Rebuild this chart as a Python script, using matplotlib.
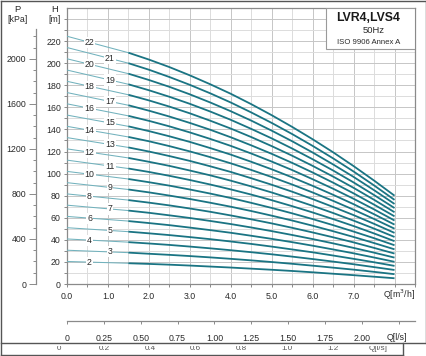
import numpy as np
import matplotlib.pyplot as plt
from matplotlib.patches import Rectangle
from matplotlib.lines import Line2D
from matplotlib.transforms import Bbox, TransformedBbox

plt.rcParams['font.family'] = ['Liberation Sans', 'DejaVu Sans']

q_pts = [0, 1.5, 2, 2.5, 3, 3.5, 4, 4.5, 5, 5.5, 6, 6.5, 7, 7.5, 8]
stages = list(range(2, 23))
# head [m] per stage count, at q_pts
heads = [
    [20.4, 18.8, 18.2, 17.5, 16.7, 15.8, 14.9, 13.9, 12.9, 11.8, 10.6, 9.3, 8.0, 6.6, 5.2],
    [30.6, 28.4, 27.4, 26.4, 25.3, 24.1, 22.8, 21.4, 19.9, 18.3, 16.6, 14.8, 13.0, 11.0, 8.9],
    [40.8, 37.9, 36.7, 35.4, 33.9, 32.3, 30.6, 28.8, 26.9, 24.8, 22.6, 20.3, 17.9, 15.3, 12.7],
    [51.0, 47.4, 45.9, 44.3, 42.5, 40.6, 38.5, 36.3, 33.9, 31.3, 28.7, 25.8, 22.8, 19.7, 16.4],
    [61.2, 57.0, 55.2, 53.3, 51.1, 48.8, 46.4, 43.7, 40.9, 37.9, 34.7, 31.3, 27.8, 24.0, 20.1],
    [71.4, 66.5, 64.5, 62.2, 59.8, 57.1, 54.3, 51.2, 47.9, 44.4, 40.7, 36.8, 32.7, 28.4, 23.9],
    [81.6, 76.0, 73.7, 71.2, 68.4, 65.4, 62.1, 58.6, 54.9, 50.9, 46.7, 42.3, 37.7, 32.7, 27.6],
    [91.8, 85.6, 83.0, 80.1, 77.0, 73.6, 70.0, 66.1, 61.9, 57.5, 52.8, 47.8, 42.6, 37.1, 31.4],
    [102.0, 95.1, 92.2, 89.1, 85.6, 81.9, 77.9, 73.5, 68.9, 64.0, 58.8, 53.3, 47.5, 41.5, 35.1],
    [112.2, 104.6, 101.5, 98.0, 94.2, 90.1, 85.7, 81.0, 75.9, 70.5, 64.8, 58.8, 52.5, 45.8, 38.8],
    [122.4, 114.2, 110.7, 107.0, 102.8, 98.4, 93.6, 88.4, 82.9, 77.0, 70.8, 64.3, 57.4, 50.2, 42.6],
    [132.6, 123.7, 120.0, 115.9, 111.5, 106.6, 101.5, 95.8, 89.9, 83.6, 76.9, 69.8, 62.4, 54.5, 46.3],
    [142.8, 133.2, 129.3, 124.9, 120.1, 114.9, 109.3, 103.3, 96.9, 90.1, 82.9, 75.3, 67.3, 58.9, 50.1],
    [153.0, 142.8, 138.5, 133.8, 128.7, 123.1, 117.2, 110.7, 103.9, 96.6, 88.9, 80.8, 72.3, 63.2, 53.8],
    [163.2, 152.3, 147.8, 142.8, 137.3, 131.4, 125.1, 118.2, 110.9, 103.2, 94.9, 86.3, 77.2, 67.6, 57.5],
    [173.4, 161.9, 157.0, 151.7, 145.9, 139.7, 132.9, 125.6, 117.9, 109.7, 101.0, 91.8, 82.1, 71.9, 61.3],
    [183.6, 171.4, 166.3, 160.7, 154.6, 147.9, 140.8, 133.1, 124.9, 116.2, 107.0, 97.3, 87.1, 76.3, 65.0],
    [193.8, 180.9, 175.5, 169.6, 163.2, 156.2, 148.7, 140.5, 131.9, 122.7, 113.0, 102.8, 92.0, 80.6, 68.8],
    [204.0, 190.5, 184.8, 178.6, 171.8, 164.4, 156.5, 148.0, 138.9, 129.3, 119.1, 108.3, 97.0, 85.0, 72.5],
    [214.2, 200.0, 194.1, 187.5, 180.4, 172.7, 164.4, 155.4, 145.9, 135.8, 125.1, 113.8, 101.9, 89.3, 76.2],
    [224.4, 209.5, 203.3, 196.5, 189.0, 180.9, 172.3, 162.9, 152.9, 142.3, 131.1, 119.3, 106.8, 93.7, 80.0],
]

h_ticks = list(range(0, 221, 20))
p_ticks = [0, 400, 800, 1200, 1600, 2000]
q_ticks = [0, 1, 2, 3, 4, 5, 6, 7]
qls_ticks = [0, 0.25, 0.5, 0.75, 1.0, 1.25, 1.5, 1.75, 2.0]
qls_labels = ['0', '0.25', '0.50', '0.75', '1.00', '1.25', '1.50', '1.75', '2.00']
cut_ticks = ['0', '0.2', '0.4', '0.6', '0.8', '1.0', '1.2', 'Q[l/s]']

W, H = 427, 356
dark = '#1a7483'
light = '#72b2bd'
grey = '#8a8a8a'
txt = '#2a2a2a'
fs = 6.3

fig = plt.figure(figsize=(W / 100, H / 100), dpi=100)
fig.patch.set_facecolor('white')

def fx(px):
    return px / W

def fy(py):
    return 1 - py / H

ax = fig.add_axes([fx(67), fy(284), fx(415) - fx(67), fy(8) - fy(284)])
ax.set_xlim(0, 8.5)
ax.set_ylim(0, 250)

# grid
for q in np.arange(0.5, 8.5, 0.5):
    c = '#c6c6c6' if q % 1 == 0 else '#dcdcdc'
    ax.axvline(q, color=c, lw=0.7, zorder=1)
for h in range(10, 250, 10):
    c = '#c6c6c6' if h % 20 == 0 else '#dcdcdc'
    ax.axhline(h, color=c, lw=0.7, zorder=1)

q_arr = np.array(q_pts)
for n, hs in zip(stages, heads):
    ax.plot(q_pts[:2], hs[:2], color=light, lw=0.75, zorder=3)
    ax.plot(q_pts[1:], hs[1:], color=dark, lw=1.3, zorder=3,
            solid_capstyle='butt', solid_joinstyle='round')
    ql = 0.55 if n % 2 == 0 else 1.05
    hl = np.interp(ql, q_arr, hs)
    ax.text(ql, hl, str(n), fontsize=fs, color=txt, ha='center', va='center',
            zorder=4, bbox=dict(boxstyle='square,pad=0.12', fc='white', ec='none'))

for s in ax.spines.values():
    s.set_color(grey)
    s.set_linewidth(0.9)

ax.set_xticks(np.arange(0, 8.51, 0.5), minor=True)
ax.set_xticks(q_ticks)
ax.set_xticklabels(['%.1f' % q for q in q_ticks])
ax.set_yticks(range(0, 250, 10), minor=True)
ax.set_yticks(h_ticks)
ax.tick_params(which='both', direction='out', length=2.5, width=0.7,
               color=grey, labelsize=fs, labelcolor=txt)
ax.tick_params(axis='x', pad=3.0)
ax.tick_params(axis='y', pad=2.0)
ax.text(8.1, -10.2, 'Q[m$^3$/h]', fontsize=fs, color=txt, ha='center',
        va='center')

# title box
ax.add_patch(Rectangle((6.32, 212.5), 8.5 - 6.32, 37.5, fc='white',
                       ec='#9a9a9a', lw=0.8, zorder=5))
ax.text(7.35, 240.5, 'LVR4,LVS4', fontsize=8.8, fontweight='bold',
        color='#1a1a1a', ha='center', va='center', zorder=6)
ax.text(7.48, 229.8, '50Hz', fontsize=6.8, color=txt, ha='center',
        va='center', zorder=6)
ax.text(7.36, 218.8, 'ISO 9906 Annex A', fontsize=5.6, color=txt,
        ha='center', va='center', zorder=6)

# pressure axis
ax2 = ax.twinx()
ax2.set_ylim(0, 250 * 9.81)
for k in ['right', 'top', 'bottom']:
    ax2.spines[k].set_visible(False)
ax2.spines['left'].set_visible(True)
ax2.spines['left'].set_position(('outward', 31 * 72 / 100))
ax2.spines['left'].set_bounds(0, 2270)
ax2.spines['left'].set_color(grey)
ax2.spines['left'].set_linewidth(0.9)
ax2.yaxis.set_ticks_position('left')
ax2.yaxis.set_label_position('left')
ax2.set_yticks(p_ticks)
ax2.set_yticks(range(0, 2300, 100), minor=True)
ax2.tick_params(which='major', length=4.8, width=0.7, color=grey,
                labelsize=fs, labelcolor=txt, pad=2.2)
ax2.tick_params(which='minor', length=2.4, width=0.7, color=grey)

fig.text(fx(17), fy(9.5), 'P', fontsize=6.8, color=txt, ha='center', va='center')
fig.text(fx(17), fy(19.5), '[kPa]', fontsize=fs, color=txt, ha='center', va='center')
fig.text(fx(54.5), fy(9.5), 'H', fontsize=6.8, color=txt, ha='center', va='center')
fig.text(fx(54.5), fy(19.5), '[m]', fontsize=fs, color=txt, ha='center', va='center')

# flow axis in l/s
ax3 = fig.add_axes([fx(67), fy(321.3), fx(415) - fx(67), 0.0005])
ax3.set_xlim(0, 8.5 / 3.6)
ax3.set_yticks([])
ax3.patch.set_visible(False)
for k in ['left', 'right', 'top']:
    ax3.spines[k].set_visible(False)
ax3.spines['bottom'].set_color(grey)
ax3.spines['bottom'].set_linewidth(0.9)
ax3.set_xticks(qls_ticks + [2.25])
ax3.set_xticklabels(qls_labels + [''])
ax3.tick_params(axis='x', direction='out', length=1.8, width=0.7, color=grey,
                labelsize=fs, labelcolor=txt, pad=7.6)
fig.text(fx(397), fy(337.3), 'Q[l/s]', fontsize=fs, color=txt, ha='center',
         va='center')

# frames (page edges)
for x0, y0, x1, y1 in [(0.5, 0.5, 426.3, 0.5), (426.3, 0.5, 426.3, 343.3),
                       (0.5, 0.5, 0.5, 354.5), (0.5, 343.3, 426.3, 343.3),
                       (0.5, 354.5, 403, 354.5), (403, 343.3, 403, 354.5)]:
    fig.add_artist(Line2D([fx(x0), fx(x1)], [fy(y0), fy(y1)], color='#555555',
                          lw=1.0, transform=fig.transFigure))

# partly hidden labels of the page below
clip = TransformedBbox(Bbox([[0, 0], [1, fy(346.2)]]), fig.transFigure)
for i, lab in enumerate(cut_ticks):
    t = fig.text(fx(59 + 45.6 * i), fy(350.2), lab, fontsize=5.8, color='#555555',
                 ha='center', va='baseline')
    t.set_clip_box(clip)
    t.set_clip_on(True)

fig.savefig('out.png', dpi=100)
plt.close(fig)
